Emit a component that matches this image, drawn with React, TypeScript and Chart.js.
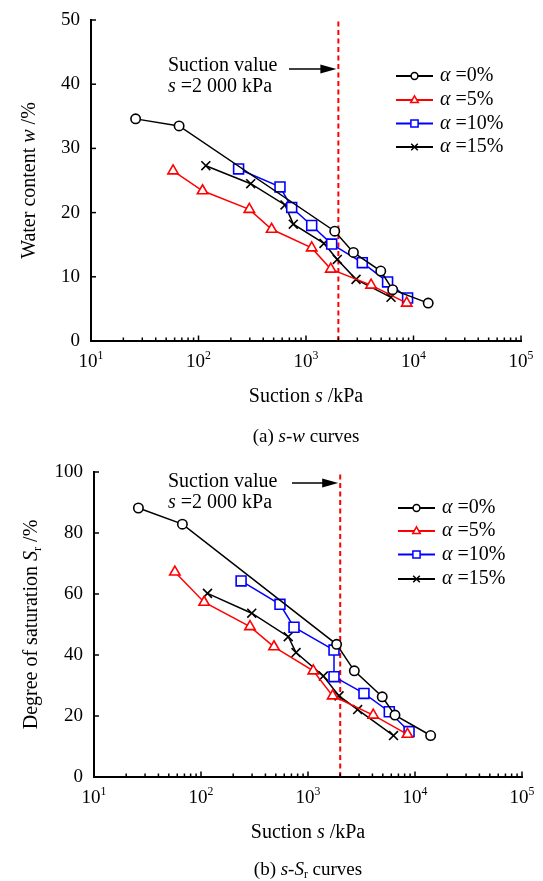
import { useEffect, useRef } from 'react';
import { Chart, registerables } from 'chart.js';
Chart.register(...registerables);

const FONT = '"Liberation Serif", "Times New Roman", serif';

// ---------- shared ----------
const xTickExponents = [1, 2, 3, 4, 5];
const suctionValue = 2000;
const legendLabels = ['0%', '5%', '10%', '15%'];

// ---------- (a) s-w ----------
const sA0 = [26, 66, 1850, 2760, 4960, 6400, 13700];
const wA0 = [34.6, 33.5, 17.1, 13.8, 10.9, 8.0, 5.9];
const sA5 = [58, 109, 297, 479, 1130, 1700, 4030, 8650];
const wA5 = [26.5, 23.4, 20.5, 17.4, 14.5, 11.2, 8.7, 5.9];
const sA10 = [236, 573, 736, 1130, 1734, 3340, 5740, 8810];
const wA10 = [26.8, 24.0, 20.8, 18.0, 15.1, 12.2, 9.2, 6.7];
const sA15 = [117, 306, 638, 762, 1470, 1955, 2920, 6180];
const wA15 = [27.3, 24.5, 21.2, 18.2, 15.2, 12.7, 9.6, 6.8];
const yTicksA = [0, 10, 20, 30, 40, 50];

// ---------- (b) s-Sr ----------
const sB0 = [26, 67, 1850, 2710, 4940, 6500, 14000];
const rB0 = [88.2, 82.9, 43.5, 34.8, 26.3, 20.3, 13.6];
const sB5 = [57, 107, 287, 481, 1120, 1700, 4070, 8500];
const rB5 = [67.2, 57.3, 49.3, 42.7, 34.8, 26.6, 20.3, 14.0];
const sB10 = [237, 547, 740, 1750, 1750, 3335, 5750, 8800];
const rB10 = [64.3, 56.6, 49.1, 41.6, 32.9, 27.4, 21.4, 14.9];
const sB15 = [115, 298, 654, 773, 1390, 1950, 2910, 6300];
const rB15 = [60.2, 53.7, 46.0, 40.8, 33.1, 26.6, 22.1, 13.6];
const yTicksB = [0, 20, 40, 60, 80, 100];

const seriesStyles = [
  { color: '#000000', point: 'circle', radius: 4.7 },
  { color: '#FF0000', point: 'triangle', radius: 6 },
  { color: '#0000FF', point: 'rect', radius: 7 },
  { color: '#000000', point: 'crossRot', radius: 6.3 },
];

type Seg = { t: string; it?: boolean; sub?: boolean; sup?: boolean };

function segFont(s: Seg, size: number) {
  const sz = s.sub || s.sup ? size * 0.62 : size;
  return `${s.it ? 'italic ' : ''}${sz}px ${FONT}`;
}

function drawRich(ctx: CanvasRenderingContext2D, segs: Seg[], x: number, y: number, align: string, size: number) {
  let w = 0;
  const ws = segs.map((s) => {
    ctx.font = segFont(s, size);
    const m = ctx.measureText(s.t).width;
    w += m;
    return m;
  });
  let cx = align === 'center' ? x - w / 2 : align === 'right' ? x - w : x;
  ctx.textAlign = 'left';
  ctx.textBaseline = 'middle';
  segs.forEach((s, i) => {
    ctx.font = segFont(s, size);
    const dy = s.sub ? size * 0.28 : s.sup ? -size * 0.34 : 0;
    ctx.fillText(s.t, cx, y + dy);
    cx += ws[i];
  });
}

function line(ctx: CanvasRenderingContext2D, x1: number, y1: number, x2: number, y2: number) {
  ctx.beginPath();
  ctx.moveTo(x1, y1);
  ctx.lineTo(x2, y2);
  ctx.stroke();
}

function drawMarker(ctx: CanvasRenderingContext2D, style: string, x: number, y: number, color: string) {
  ctx.save();
  ctx.strokeStyle = color;
  ctx.fillStyle = '#fff';
  ctx.lineWidth = 1.5;
  ctx.beginPath();
  if (style === 'circle') {
    ctx.arc(x, y, 3.4, 0, Math.PI * 2);
    ctx.fill();
    ctx.stroke();
  } else if (style === 'triangle') {
    ctx.moveTo(x, y - 4.2);
    ctx.lineTo(x + 3.8, y + 2.6);
    ctx.lineTo(x - 3.8, y + 2.6);
    ctx.closePath();
    ctx.fill();
    ctx.stroke();
  } else if (style === 'rect') {
    ctx.rect(x - 3.6, y - 3.6, 7.2, 7.2);
    ctx.fill();
    ctx.stroke();
  } else {
    ctx.moveTo(x - 3.3, y - 3.3);
    ctx.lineTo(x + 3.3, y + 3.3);
    ctx.moveTo(x + 3.3, y - 3.3);
    ctx.lineTo(x - 3.3, y + 3.3);
    ctx.stroke();
  }
  ctx.restore();
}

type OverlayCfg = {
  yTicks: number[];
  yTitle: Seg[];
  yTitleX: number;
  caption: Seg[];
  xTitleOff: number;
  captionOff: number;
  annX: number;
  annY1: number;
  annY2: number;
  arrowX: number;
  arrowY: number;
  legX: number;
  legRows: number[];
};

function makeOverlay(cfg: OverlayCfg) {
  return {
    id: 'overlay',
    afterDraw(chart: any) {
      const ctx: CanvasRenderingContext2D = chart.ctx;
      const xs = chart.scales.x;
      const ys = chart.scales.y;
      const { left, top, bottom } = chart.chartArea;
      ctx.save();
      ctx.strokeStyle = '#000';
      ctx.fillStyle = '#000';
      ctx.lineWidth = 1.5;
      // y ticks (inward)
      cfg.yTicks.forEach((v) => {
        const py = ys.getPixelForValue(v);
        line(ctx, left, py, left + 5, py);
      });
      // x ticks (inward)
      xTickExponents.forEach((e, i) => {
        const px = xs.getPixelForValue(Math.pow(10, e));
        line(ctx, px, bottom, px, bottom - 5.5);
        if (i < xTickExponents.length - 1) {
          for (let k = 2; k <= 9; k++) {
            const pm = xs.getPixelForValue(k * Math.pow(10, e));
            line(ctx, pm, bottom, pm, bottom - 3.5);
          }
        }
      });
      // y labels
      ctx.font = `19px ${FONT}`;
      ctx.textAlign = 'right';
      ctx.textBaseline = 'middle';
      cfg.yTicks.forEach((v) => ctx.fillText(String(v), left - 11, ys.getPixelForValue(v)));
      // x labels
      xTickExponents.forEach((e) => {
        drawRich(ctx, [{ t: '10' }, { t: String(e), sup: true }], xs.getPixelForValue(Math.pow(10, e)), bottom + 21, 'center', 19);
      });
      // x title
      const cx = (chart.chartArea.left + chart.chartArea.right) / 2;
      drawRich(ctx, [{ t: 'Suction ' }, { t: 's', it: true }, { t: ' /kPa' }], cx, bottom + cfg.xTitleOff, 'center', 20);
      // caption
      drawRich(ctx, cfg.caption, cx, bottom + cfg.captionOff, 'center', 19);
      // y title
      ctx.save();
      ctx.translate(cfg.yTitleX, (top + bottom) / 2);
      ctx.rotate(-Math.PI / 2);
      drawRich(ctx, cfg.yTitle, 0, 0, 'center', 20);
      ctx.restore();
      // annotation
      drawRich(ctx, [{ t: 'Suction value' }], cfg.annX, cfg.annY1, 'left', 20);
      drawRich(ctx, [{ t: 's', it: true }, { t: ' =2 000 kPa' }], cfg.annX, cfg.annY2, 'left', 20);
      const tip = xs.getPixelForValue(suctionValue) - 2;
      ctx.lineWidth = 1.6;
      line(ctx, cfg.arrowX, cfg.arrowY, tip - 14, cfg.arrowY);
      ctx.beginPath();
      ctx.moveTo(tip, cfg.arrowY);
      ctx.lineTo(tip - 16, cfg.arrowY - 4.5);
      ctx.lineTo(tip - 16, cfg.arrowY + 4.5);
      ctx.closePath();
      ctx.fill();
      // legend
      cfg.legRows.forEach((ry, i) => {
        const st = seriesStyles[i];
        ctx.strokeStyle = st.color;
        ctx.lineWidth = 1.8;
        line(ctx, cfg.legX, ry, cfg.legX + 37, ry);
        drawMarker(ctx, st.point, cfg.legX + 18.5, ry, st.color);
        ctx.fillStyle = '#000';
        drawRich(ctx, [{ t: 'α', it: true }, { t: ' =' + legendLabels[i] }], cfg.legX + 44, ry, 'left', 20);
      });
      ctx.restore();
    },
  };
}

function buildDatasets(xsArr: number[][], ysArr: number[][], yMax: number) {
  const ds: any[] = xsArr.map((xv, i) => {
    const st = seriesStyles[i];
    return {
      data: xv.map((x, j) => ({ x, y: ysArr[i][j] })),
      borderColor: st.color,
      backgroundColor: '#ffffff',
      borderWidth: 1.5,
      pointStyle: st.point,
      pointRadius: st.radius,
      pointBorderWidth: 1.6,
      pointBorderColor: st.color,
      pointBackgroundColor: '#ffffff',
      tension: 0,
      fill: false,
    };
  });
  ds.push({
    data: [
      { x: suctionValue, y: 0 },
      { x: suctionValue, y: yMax },
    ],
    borderColor: '#FF0000',
    borderWidth: 2,
    borderDash: [5, 3.5],
    pointRadius: 0,
    fill: false,
  });
  return ds;
}

function makeConfig(datasets: any[], yMax: number, step: number, pad: any, overlay: any): any {
  return {
    type: 'line',
    data: { datasets },
    options: {
      responsive: false,
      animation: false,
      devicePixelRatio: 1,
      layout: { padding: pad },
      plugins: { legend: { display: false }, tooltip: { enabled: false } },
      scales: {
        x: {
          type: 'logarithmic',
          min: 10,
          max: 100000,
          grid: { display: false },
          ticks: { display: false },
          border: { display: true, color: '#000', width: 2 },
          afterFit: (s: any) => {
            s.height = 0;
          },
        },
        y: {
          type: 'linear',
          min: 0,
          max: yMax,
          ticks: { display: false, stepSize: step },
          grid: { display: false },
          border: { display: true, color: '#000', width: 2 },
          afterFit: (s: any) => {
            s.width = 0;
          },
        },
      },
    },
    plugins: [overlay],
  };
}

export default function App() {
  const refA = useRef<HTMLCanvasElement>(null);
  const refB = useRef<HTMLCanvasElement>(null);

  useEffect(() => {
    const overlayA = makeOverlay({
      yTicks: yTicksA,
      yTitle: [{ t: 'Water content ' }, { t: 'w', it: true }, { t: ' /%' }],
      yTitleX: 30,
      caption: [{ t: '(a) ' }, { t: 's-w', it: true }, { t: ' curves' }],
      xTitleOff: 56,
      captionOff: 96,
      annX: 168,
      annY1: 66,
      annY2: 87,
      arrowX: 289,
      arrowY: 69,
      legX: 396,
      legRows: [76, 100, 123.5, 147],
    });
    const overlayB = makeOverlay({
      yTicks: yTicksB,
      yTitle: [{ t: 'Degree of saturation ' }, { t: 'S', it: true }, { t: 'r', sub: true }, { t: ' /%' }],
      yTitleX: 32,
      caption: [{ t: '(b) ' }, { t: 's', it: true }, { t: '-' }, { t: 'S', it: true }, { t: 'r', sub: true }, { t: ' curves' }],
      xTitleOff: 56,
      captionOff: 93,
      annX: 168,
      annY1: 32,
      annY2: 53,
      arrowX: 292,
      arrowY: 33,
      legX: 398,
      legRows: [58, 81, 104.5, 129],
    });
    const a = new Chart(
      refA.current as HTMLCanvasElement,
      makeConfig(buildDatasets([sA0, sA5, sA10, sA15], [wA0, wA5, wA10, wA15], 50), 50, 10,
        { left: 91, right: 22, top: 20, bottom: 109 }, overlayA)
    );
    const b = new Chart(
      refB.current as HTMLCanvasElement,
      makeConfig(buildDatasets([sB0, sB5, sB10, sB15], [rB0, rB5, rB10, rB15], 100), 100, 20,
        { left: 94, right: 21, top: 22, bottom: 104 }, overlayB)
    );
    return () => {
      a.destroy();
      b.destroy();
    };
  }, []);

  return (
    <div style={{ position: 'absolute', left: 0, top: 0, width: 543, height: 881, background: '#fff' }}>
      <canvas ref={refA} width={543} height={450} style={{ position: 'absolute', left: 0, top: 0, width: 543, height: 450 }} />
      <canvas ref={refB} width={543} height={431} style={{ position: 'absolute', left: 0, top: 450, width: 543, height: 431 }} />
    </div>
  );
}
